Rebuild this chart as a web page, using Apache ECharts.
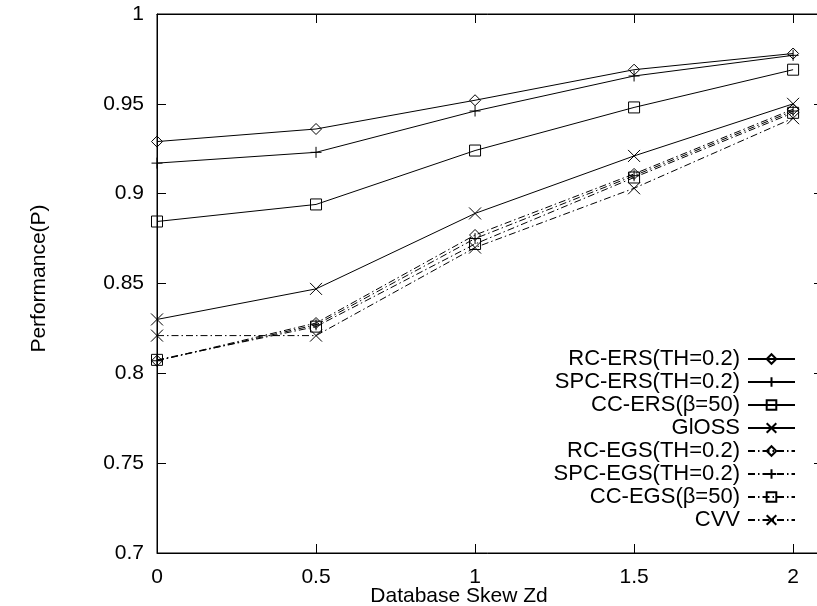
<!DOCTYPE html>
<html>
<head>
<meta charset="utf-8">
<script src="https://cdn.jsdelivr.net/npm/echarts@6/dist/echarts.min.js"></script>
<style>
html,body{margin:0;padding:0;background:#fff;}
#chart{width:817px;height:606px;}
</style>
</head>
<body>
<div id="chart"></div>
<script>
// ---- data ----
const skew = [0, 0.5, 1, 1.5, 2];
const seriesNames = [
  'RC-ERS(TH=0.2)', 'SPC-ERS(TH=0.2)', 'CC-ERS(\u03B2=50)', 'GlOSS',
  'RC-EGS(TH=0.2)', 'SPC-EGS(TH=0.2)', 'CC-EGS(\u03B2=50)', 'CVV'
];
const rcErs  = [0.929, 0.936, 0.952, 0.969, 0.978];
const spcErs = [0.917, 0.923, 0.946, 0.9655, 0.977];
const ccErs  = [0.8845, 0.894, 0.924, 0.948, 0.969];
const gloss  = [0.830, 0.847, 0.889, 0.921, 0.950];
const rcEgs  = [0.807, 0.828, 0.877, 0.911, 0.947];
const spcEgs = [0.807, 0.827, 0.875, 0.910, 0.946];
const ccEgs  = [0.8075, 0.826, 0.872, 0.909, 0.945];
const cvv    = [0.821, 0.821, 0.870, 0.903, 0.942];
const yTicks = [0.7, 0.75, 0.8, 0.85, 0.9, 0.95, 1];

const allValues = [rcErs, spcErs, ccErs, gloss, rcEgs, spcEgs, ccEgs, cvv];

// ---- styles ----
const FONT = "'Liberation Sans', Arial, Helvetica, sans-serif";
const DIAMOND = 'path://M5,0 L10,5 L5,10 L0,5 Z';
const SQUARE = 'path://M0,0 L10,0 L10,10 L0,10 Z';
const PLUS = 'path://M5,0 L5,10 M0,5 L10,5';
const CROSS = 'path://M0,0 L10,10 M0,10 L10,0';
const symbols = [DIAMOND, PLUS, SQUARE, CROSS, DIAMOND, PLUS, SQUARE, CROSS];
const symSizes = [11, 11, 11, 12, 11, 11, 11, 12];
const dashDot = [7, 3, 1.5, 3];
const X_MAX = 2.094;

const series = seriesNames.map((name, i) => ({
  name: name,
  type: 'line',
  xAxisIndex: 0,
  yAxisIndex: 0,
  data: skew.map((x, j) => [x, allValues[i][j]]),
  symbol: symbols[i],
  symbolSize: symSizes[i],
  showAllSymbol: true,
  animation: false,
  lineStyle: { color: '#000', width: 1, type: i < 4 ? 'solid' : dashDot },
  itemStyle: { color: 'rgba(0,0,0,0)', borderColor: '#000', borderWidth: 1 },
  emphasis: { disabled: true },
  z: 10 - i
}));

const tickIn = { show: true, inside: true, length: 9, lineStyle: { color: '#000', width: 1 } };

const chart = echarts.init(document.getElementById('chart'), null, { renderer: 'canvas' });
chart.setOption({
  animation: false,
  backgroundColor: '#fff',
  textStyle: { fontFamily: FONT },
  grid: { left: 157, right: -6, top: 14, bottom: 53, containLabel: false, outerBoundsMode: 'none',
    show: true, borderColor: '#000', borderWidth: 1, backgroundColor: 'transparent' },
  legend: {
    orient: 'vertical',
    right: 21,
    top: 348,
    padding: 0,
    align: 'right',
    itemWidth: 47,
    itemHeight: 12,
    itemGap: 1,
    data: seriesNames,
    textStyle: { fontFamily: FONT, fontSize: 22, lineHeight: 22, color: '#000', padding: [0, 3, 0, 0] },
    selectedMode: false
  },
  xAxis: [{
    type: 'value',
    min: 0, max: X_MAX, interval: 0.5,
    position: 'bottom',
    name: 'Database Skew Zd',
    nameLocation: 'middle',
    nameGap: 33,
    nameMoveOverlap: false,
    nameTextStyle: { fontFamily: FONT, fontSize: 21, color: '#000', padding: [0, 62, 0, 0] },
    axisLine: { show: true, onZero: false, lineStyle: { color: '#000', width: 1 } },
    axisTick: tickIn,
    axisLabel: { show: true, showMaxLabel: false, fontFamily: FONT, fontSize: 21, color: '#000', margin: 14,
      formatter: v => (Math.abs(v * 2 - Math.round(v * 2)) < 1e-6 ? String(v) : '') },
    splitLine: { show: false }
  }, {
    type: 'value',
    min: 0, max: X_MAX, interval: 0.5,
    position: 'top',
    axisLine: { show: true, onZero: false, lineStyle: { color: '#000', width: 1 } },
    axisTick: tickIn,
    axisLabel: { show: false },
    splitLine: { show: false }
  }],
  yAxis: [{
    type: 'value',
    min: yTicks[0], max: yTicks[yTicks.length - 1], interval: 0.05,
    position: 'left',
    name: 'Performance(P)',
    nameLocation: 'middle',
    nameGap: 107,
    nameMoveOverlap: false,
    nameTextStyle: { fontFamily: FONT, fontSize: 21, color: '#000', padding: [0, 0, 0, 10] },
    axisLine: { show: true, onZero: false, lineStyle: { color: '#000', width: 1 } },
    axisTick: tickIn,
    axisLabel: { fontFamily: FONT, fontSize: 21, color: '#000', margin: 13,
      formatter: v => String(Math.round(v * 100) / 100) },
    splitLine: { show: false }
  }, {
    type: 'value',
    position: 'right',
    min: yTicks[0], max: yTicks[yTicks.length - 1], interval: 0.05,
    axisLine: { show: true, onZero: false, lineStyle: { color: '#000', width: 1 } },
    axisTick: tickIn,
    axisLabel: { show: false },
    splitLine: { show: false }
  }],
  series: series
});
</script>
</body>
</html>
